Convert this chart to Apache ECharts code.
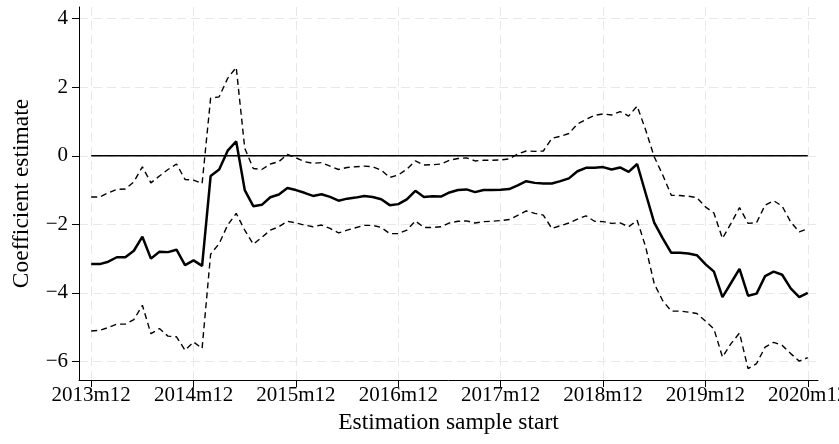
<!DOCTYPE html>
<html>
<head>
<meta charset="utf-8">
<script src="https://cdn.jsdelivr.net/npm/echarts@6/dist/echarts.min.js"></script>
<style>html,body{margin:0;padding:0;background:#fff}#c{width:839px;height:444px}</style>
</head>
<body>
<div id="c"></div>
<script>
// Months since 2013m12 (0 = 2013m12 ... 84 = 2020m12)
const estimate = [-3.16,-3.16,-3.09,-2.96,-2.96,-2.77,-2.36,-3.00,-2.80,-2.81,-2.74,-3.19,-3.05,-3.21,
  -0.59,-0.40,0.15,0.42,-1.00,-1.47,-1.43,-1.21,-1.13,-0.94,-1.00,-1.08,-1.17,-1.12,-1.20,-1.31,
  -1.25,-1.22,-1.17,-1.20,-1.27,-1.44,-1.41,-1.27,-1.02,-1.20,-1.18,-1.19,-1.07,-1.00,-0.98,-1.06,
  -1.00,-1.00,-0.99,-0.97,-0.86,-0.74,-0.79,-0.81,-0.81,-0.74,-0.66,-0.45,-0.35,-0.35,-0.33,-0.40,
  -0.34,-0.47,-0.24,-1.10,-1.95,-2.41,-2.83,-2.83,-2.85,-2.90,-3.16,-3.38,-4.12,-3.71,-3.30,-4.08,
  -4.02,-3.51,-3.38,-3.47,-3.87,-4.12,-4.00];
const upper = [-1.20,-1.20,-1.08,-0.98,-0.97,-0.76,-0.32,-0.79,-0.59,-0.40,-0.24,-0.69,-0.71,-0.81,
  1.68,1.72,2.26,2.58,0.22,-0.37,-0.40,-0.24,-0.17,0.04,-0.06,-0.17,-0.22,-0.20,-0.30,-0.40,
  -0.34,-0.32,-0.30,-0.32,-0.42,-0.63,-0.56,-0.39,-0.15,-0.27,-0.26,-0.24,-0.13,-0.08,-0.06,-0.15,
  -0.13,-0.13,-0.12,-0.09,0.05,0.14,0.13,0.14,0.51,0.57,0.65,0.93,1.06,1.18,1.22,1.19,
  1.29,1.16,1.45,0.75,-0.03,-0.56,-1.15,-1.16,-1.18,-1.22,-1.49,-1.67,-2.41,-1.97,-1.51,-1.97,
  -1.95,-1.44,-1.31,-1.47,-1.93,-2.22,-2.13];
const lower = [-5.11,-5.09,-5.01,-4.91,-4.91,-4.78,-4.36,-5.19,-5.04,-5.26,-5.28,-5.67,-5.43,-5.62,
  -2.87,-2.56,-2.02,-1.68,-2.17,-2.58,-2.38,-2.17,-2.07,-1.91,-1.96,-2.02,-2.07,-2.02,-2.12,-2.25,
  -2.17,-2.10,-2.03,-2.03,-2.09,-2.27,-2.27,-2.17,-1.90,-2.09,-2.09,-2.07,-1.96,-1.91,-1.90,-1.96,
  -1.92,-1.91,-1.89,-1.86,-1.74,-1.61,-1.68,-1.73,-2.12,-2.04,-1.96,-1.85,-1.75,-1.91,-1.92,-1.97,
  -1.96,-2.07,-1.88,-2.66,-3.73,-4.23,-4.53,-4.53,-4.56,-4.60,-4.82,-5.05,-5.87,-5.48,-5.17,-6.21,
  -6.06,-5.58,-5.44,-5.53,-5.77,-5.99,-5.89];
const zeroLine = estimate.map(() => 0);
const xTickValues = [0, 12, 24, 36, 48, 60, 72, 84];
const xTickLabels = ['2013m12','2014m12','2015m12','2016m12','2017m12','2018m12','2019m12','2020m12'];
const yTickValues = [-6, -4, -2, 0, 2, 4];
const yTickLabels = ['\u22126','\u22124','\u22122','0','2','4'];

const toPairs = arr => arr.map((v, i) => [i, v]);
const font = 'Liberation Serif';
const chart = echarts.init(document.getElementById('c'), null, {renderer: 'canvas'});
chart.setOption({
  animation: false,
  backgroundColor: '#fff',
  grid: {left: 79, right: 21, top: 7, bottom: 64, containLabel: false, outerBoundsMode: 'none'},
  xAxis: {
    type: 'value', min: -1.43, max: 85.2,
    name: 'Estimation sample start', nameLocation: 'middle', nameGap: 28,
    nameTextStyle: {fontFamily: font, fontSize: 23.5, color: '#000'},
    axisLine: {show: true, onZero: false, lineStyle: {color: '#000', width: 1}},
    axisTick: {show: true, length: 7, lineStyle: {color: '#000'}, customValues: xTickValues},
    axisLabel: {fontFamily: font, fontSize: 21, color: '#000', margin: 5, customValues: xTickValues,
      hideOverlap: false, showMinLabel: true, showMaxLabel: true,
      formatter: v => xTickLabels[xTickValues.indexOf(Math.round(v))] || ''},
    splitLine: {show: true, lineStyle: {color: '#e8e8e8', width: 1, type: [9, 5]}}
  },
  yAxis: {
    type: 'value', min: -6.54, max: 4.34,
    name: 'Coefficient estimate', nameLocation: 'middle', nameGap: 45,
    nameTextStyle: {fontFamily: font, fontSize: 23.5, color: '#000'},
    axisLine: {show: true, onZero: false, lineStyle: {color: '#000', width: 1}},
    axisTick: {show: true, length: 7, lineStyle: {color: '#000'}, customValues: yTickValues},
    axisLabel: {fontFamily: font, fontSize: 21, color: '#000', margin: 11, customValues: yTickValues,
      formatter: v => yTickLabels[yTickValues.indexOf(Math.round(v))] || ''},
    splitLine: {show: true, lineStyle: {color: '#e8e8e8', width: 1, type: [9, 5]}}
  },
  series: [
    {type: 'line', data: toPairs(zeroLine), showSymbol: false, lineStyle: {color: '#000', width: 1.5}, z: 3},
    {type: 'line', data: toPairs(upper), showSymbol: false, lineStyle: {color: '#000', width: 1.4, type: [6, 4]}, z: 4},
    {type: 'line', data: toPairs(lower), showSymbol: false, lineStyle: {color: '#000', width: 1.4, type: [6, 4]}, z: 4},
    {type: 'line', data: toPairs(estimate), showSymbol: false, lineStyle: {color: '#000', width: 2.5}, z: 5}
  ]
});
</script>
</body>
</html>
